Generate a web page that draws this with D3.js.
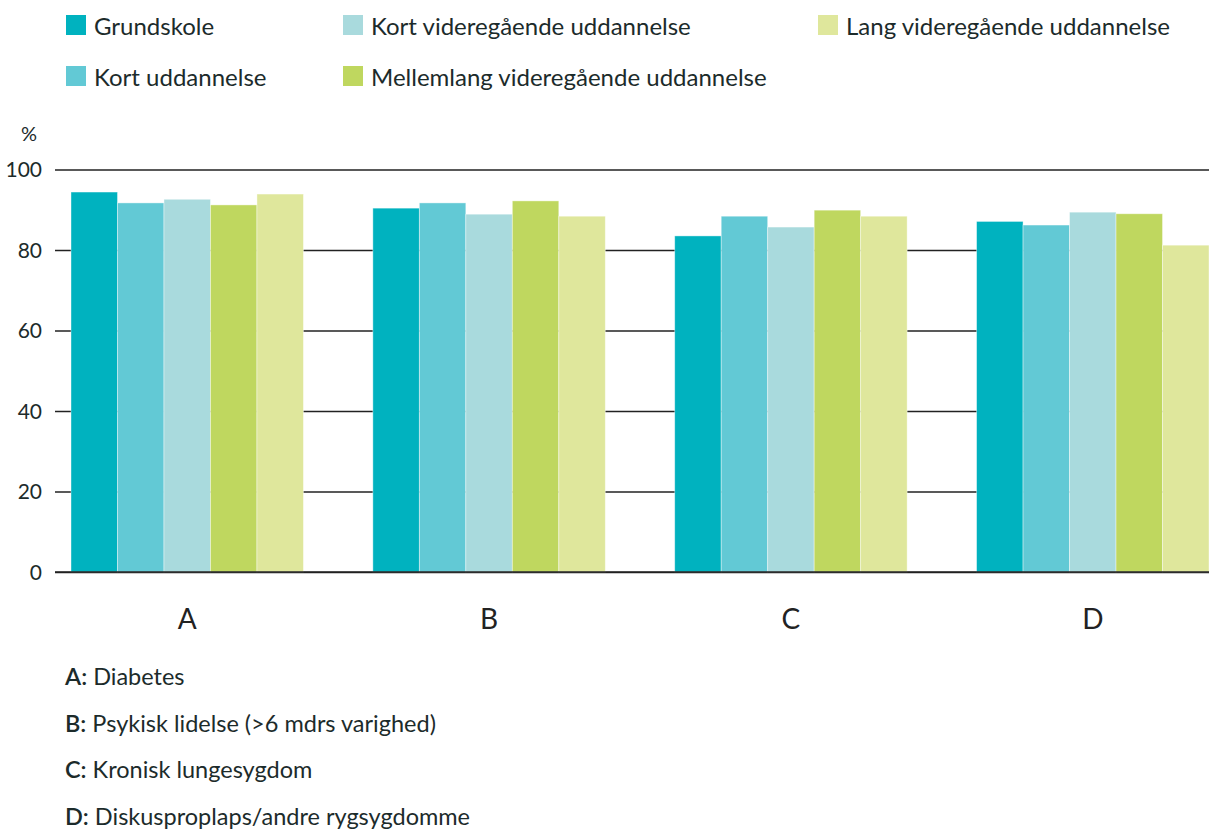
<!DOCTYPE html>
<html>
<head>
<meta charset="utf-8">
<script src="https://cdn.jsdelivr.net/npm/d3@7"></script>
<style>
  body { margin: 0; background: #fff; }
  svg text { font-family: Lato, "Open Sans", sans-serif; fill: #1c2b2b; }
</style>
</head>
<body>
<svg></svg>
<script>
const categories = ["A", "B", "C", "D"];
const seriesNames = [
  "Grundskole",
  "Kort uddannelse",
  "Kort videregående uddannelse",
  "Mellemlang videregående uddannelse",
  "Lang videregående uddannelse",
];
const seriesColors = ["#00b2bf", "#62c9d5", "#a9dadd", "#bfd75f", "#dfe79c"];

// values per series, in category order A-D
const grundskole = [94.4, 90.4, 83.5, 87.1];
const kortUdd = [91.7, 91.7, 88.4, 86.2];
const kortVid = [92.6, 88.9, 85.7, 89.4];
const mellemlang = [91.2, 92.2, 89.9, 89.0];
const lang = [93.9, 88.4, 88.4, 81.2];
const seriesValues = [grundskole, kortUdd, kortVid, mellemlang, lang];

const yTicks = [0, 20, 40, 60, 80, 100];
const footnotes = [
  ["A", "Diabetes"],
  ["B", "Psykisk lidelse (>6 mdrs varighed)"],
  ["C", "Kronisk lungesygdom"],
  ["D", "Diskusproplaps/andre rygsygdomme"],
];

const width = 1209;
const height = 832;
const svg = d3.select("svg").attr("width", width).attr("height", height);

const data = categories.map((c, i) => ({
  cat: c,
  values: seriesNames.map((s, j) => ({ key: s, value: seriesValues[j][i], color: seriesColors[j] })),
}));

const xScale = d3.scaleBand().domain(categories).range([71, 1209]).paddingInner(0.23).paddingOuter(0);
const xInner = d3.scaleBand().domain(seriesNames).range([0, xScale.bandwidth()]);
const yScale = d3.scaleLinear().domain([0, 100]).range([572, 169.5]);

// gridlines
const yAxis = d3.axisLeft(yScale).tickValues(yTicks).tickSize(-(1209 - 55)).tickPadding(13);
const yAxisG = svg.append("g").attr("transform", "translate(55,0)").call(yAxis);
yAxisG.select(".domain").remove();
yAxisG.selectAll(".tick line").attr("stroke", "#222").attr("stroke-width", 1.6);
yAxisG.selectAll(".tick text").attr("font-size", 21).attr("fill", "#1c2b2b").attr("dy", "0.35em");

svg.append("text").attr("x", 21).attr("y", 141).attr("font-size", 20).text("%");

// bars
const groups = svg.selectAll(".grp").data(data).enter().append("g")
  .attr("transform", (d) => `translate(${xScale(d.cat)},0)`);

groups.selectAll("rect").data((d) => d.values).enter().append("rect")
  .attr("x", (d) => xInner(d.key))
  .attr("width", xInner.bandwidth())
  .attr("y", (d) => yScale(d.value))
  .attr("height", (d) => yScale(0) - yScale(d.value))
  .attr("fill", (d) => d.color)
  .attr("stroke", "#ffffff")
  .attr("stroke-opacity", 0.5)
  .attr("stroke-width", 0.8);

// baseline on top
svg.append("line").attr("x1", 55).attr("x2", 1209).attr("y1", yScale(0)).attr("y2", yScale(0))
  .attr("stroke", "#222").attr("stroke-width", 1.6);

// category labels
svg.selectAll(".cat").data(categories).enter().append("text")
  .attr("x", (d) => xScale(d) + xScale.bandwidth() / 2)
  .attr("y", 629)
  .attr("text-anchor", "middle")
  .attr("font-size", 28)
  .style("fill", "#222")
  .text((d) => d);

// legend (column-major)
const legendCols = [66, 343, 818];
const legendRows = [15, 66];
const legend = svg.selectAll(".leg").data(seriesNames).enter().append("g")
  .attr("transform", (d, i) => `translate(${legendCols[Math.floor(i / 2)]},${legendRows[i % 2]})`);
legend.append("rect").attr("x", 0).attr("y", 0).attr("width", 20).attr("height", 20)
  .attr("fill", (d, i) => seriesColors[i]);
legend.append("text").attr("x", 28).attr("y", 19.5).attr("font-size", 24)
  .text((d) => d);

// footnotes
const fn = svg.selectAll(".fn").data(footnotes).enter().append("text")
  .attr("x", 65)
  .attr("y", (d, i) => 685 + i * 46.7)
  .attr("font-size", 23.5);
fn.append("tspan").attr("font-weight", 600).text((d) => d[0] + ":");
fn.append("tspan").text((d) => " " + d[1]);
</script>
</body>
</html>
